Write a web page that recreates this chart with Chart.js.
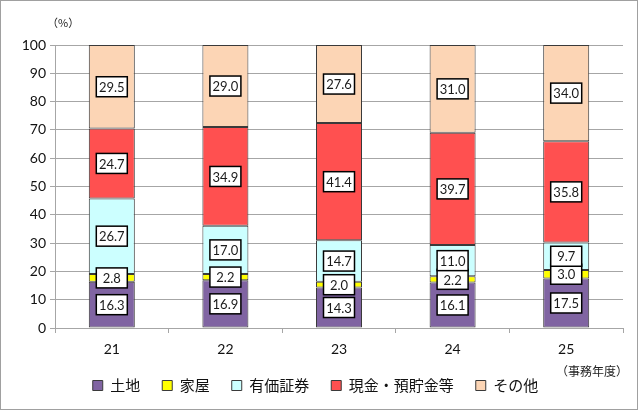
<!DOCTYPE html>
<html>
<head>
<meta charset="utf-8">
<script src="https://cdn.jsdelivr.net/npm/chart.js@4"></script>
<style>
  body { margin: 0; background: #fff; }
  #wrap { width: 640px; height: 411px; }
</style>
</head>
<body>
<div id="wrap"><canvas id="chart" width="640" height="411"></canvas></div>
<script>
// 事務年度
const years = ['21', '22', '23', '24', '25'];

// 構成比 (%)
const land = [16.3, 16.9, 14.3, 16.1, 17.5];
const house = [2.8, 2.2, 2.0, 2.2, 3.0];
const securities = [26.7, 17.0, 14.7, 11.0, 9.7];
const cash = [24.7, 34.9, 41.4, 39.7, 35.8];
const others = [29.5, 29.0, 27.6, 31.0, 34.0];

const yTicks = [0, 10, 20, 30, 40, 50, 60, 70, 80, 90, 100];

const jpFont = "'Noto Sans CJK JP', sans-serif";
const numFont = "Lato, 'Noto Sans CJK JP', sans-serif";

// frame + unit captions
const frame = {
    id: 'frame',
    beforeDraw(chart) {
        const ctx = chart.ctx;
        ctx.save();
        ctx.fillStyle = '#fff';
        ctx.fillRect(0, 0, chart.width, chart.height);
        ctx.restore();
    },
    afterDraw(chart) {
        const ctx = chart.ctx;
        ctx.save();
        ctx.strokeStyle = '#a0a0a0';
        ctx.lineWidth = 1;
        ctx.strokeRect(0.5, 0.5, 637, 409);
        ctx.fillStyle = '#222';
        ctx.font = '11px ' + jpFont;
        ctx.textBaseline = 'middle';
        ctx.textAlign = 'left';
        ctx.fillText('（%）', 47, 23);
        ctx.font = '12px ' + jpFont;
        ctx.fillText('（事務年度）', 556, 371);
        ctx.restore();
    }
};

// boxed value labels in the middle of each segment
const boxLabels = {
    id: 'boxLabels',
    afterDatasetsDraw(chart) {
        const ctx = chart.ctx;
        ctx.save();
        ctx.font = '13px ' + numFont;
        ctx.textAlign = 'center';
        ctx.textBaseline = 'middle';
        chart.data.datasets.forEach((ds, i) => {
            chart.getDatasetMeta(i).data.forEach((bar, j) => {
                const cy = (bar.y + bar.base) / 2;
                const w = 31, h = 20;
                ctx.fillStyle = '#fff';
                ctx.fillRect(bar.x - w / 2, cy - h / 2, w, h);
                ctx.strokeStyle = '#000';
                ctx.lineWidth = 1.5;
                ctx.strokeRect(bar.x - w / 2, cy - h / 2, w, h);
                ctx.fillStyle = '#1a1a1a';
                ctx.fillText(ds.data[j].toFixed(1), bar.x, cy + 1);
            });
        });
        ctx.restore();
    }
};

const makeSet = (label, data, color) => ({
    label: label,
    data: data,
    backgroundColor: color,
    borderColor: '#3a3a3a',
    borderWidth: 1,
    borderSkipped: false,
    barPercentage: 0.405,
    categoryPercentage: 1.0
});

new Chart(document.getElementById('chart').getContext('2d'), {
    type: 'bar',
    data: {
        labels: years,
        datasets: [
            makeSet('土地', land, '#8064A2'),
            makeSet('家屋', house, '#FFFF00'),
            makeSet('有価証券', securities, '#CCFFFF'),
            makeSet('現金・預貯金等', cash, '#FF5050'),
            makeSet('その他', others, '#FCD5B5')
        ]
    },
    options: {
        responsive: false,
        animation: false,
        layout: { padding: { left: 8, right: 17, top: 45, bottom: 8 } },
        plugins: {
            legend: {
                position: 'bottom',
                labels: {
                    font: { family: jpFont, size: 15 },
                    color: '#111',
                    boxWidth: 10,
                    boxHeight: 10,
                    padding: 22
                }
            },
            tooltip: { enabled: false }
        },
        scales: {
            x: {
                stacked: true,
                grid: {
                    offset: true,
                    drawOnChartArea: false,
                    color: '#a6a6a6',
                    tickLength: 5
                },
                border: { color: '#a6a6a6' },
                ticks: { color: '#111', font: { family: numFont, size: 14 }, padding: 8 },
                afterFit(scale) { scale.height = 28; }
            },
            y: {
                stacked: true,
                min: 0,
                max: 100,
                afterBuildTicks(scale) { scale.ticks = yTicks.map(v => ({ value: v })); },
                grid: { color: '#a6a6a6', tickLength: 5 },
                border: { color: '#a6a6a6' },
                ticks: { color: '#111', font: { family: numFont, size: 14 }, padding: 4 },
                afterFit(scale) { scale.width = 47; }
            }
        }
    },
    plugins: [frame, boxLabels]
});
</script>
</body>
</html>
